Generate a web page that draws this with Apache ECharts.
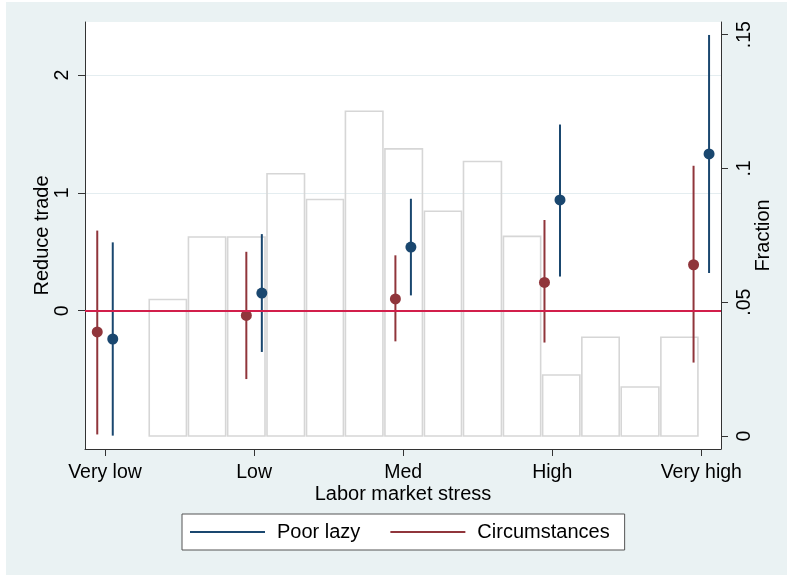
<!DOCTYPE html>
<html>
<head>
<meta charset="utf-8">
<script src="https://cdn.jsdelivr.net/npm/echarts@6/dist/echarts.min.js"></script>
<style>
html,body{margin:0;padding:0;background:#fff;}
#chart{width:787px;height:575px;}
</style>
</head>
<body>
<div id="chart"></div>
<script>
// ---- data ----
const categories = ['Very low', 'Low', 'Med', 'High', 'Very high'];
const categoryValues = [1, 2, 3, 4, 5];

const poorLazy   = [-0.24, 0.15, 0.54, 0.94, 1.33];
const poorLazyLo = [-1.06, -0.35, 0.13, 0.29, 0.32];
const poorLazyHi = [0.58, 0.65, 0.95, 1.58, 2.34];

const circumstances   = [-0.18, -0.04, 0.10, 0.24, 0.39];
const circumstancesLo = [-1.05, -0.58, -0.26, -0.27, -0.44];
const circumstancesHi = [0.68, 0.50, 0.47, 0.77, 1.23];

const histEdges = [1.290, 1.553, 1.816, 2.080, 2.345, 2.606, 2.871, 3.136, 3.398, 3.666, 3.929, 4.192, 4.456, 4.722, 4.984];
const histFraction = [0.051, 0.0744, 0.0744, 0.098, 0.0884, 0.1214, 0.1073, 0.084, 0.1026, 0.0746, 0.0228, 0.0369, 0.0183, 0.0369];

const tradeTicks = [0, 1, 2];
const tradeTickLabels = ['0', '1', '2'];
const fractionTicks = [0, 0.05, 0.1, 0.15];
const fractionTickLabels = ['0', '.05', '.1', '.15'];

// ---- styles ----
const FONT = '"Liberation Sans", Arial, sans-serif';
const NAVY = '#1a476f';
const MAROON = '#90353b';
const ZERO_RED = '#d21f4b';
const AXIS = '#333333';
const DODGE = 0.052;

function labelFor(list, labels) {
  return function (v) {
    for (let i = 0; i < list.length; i++) if (Math.abs(list[i] - v) < 1e-6) return labels[i];
    return '';
  };
}

function ciRender(color) {
  return function (params, api) {
    const a = api.coord([api.value(0), api.value(1)]);
    const b = api.coord([api.value(0), api.value(2)]);
    return { type: 'line', shape: { x1: a[0], y1: a[1], x2: b[0], y2: b[1] },
             style: { stroke: color, lineWidth: 2 } };
  };
}

const chart = echarts.init(document.getElementById('chart'), null, { renderer: 'canvas' });
const textBase = { fontFamily: FONT, fontSize: 20, color: '#000' };
const tickText = { fontFamily: FONT, fontSize: 19.5, color: '#000' };

const option = {
  animation: false,
  backgroundColor: '#eaf2f3',
  graphic: [
    { type: 'rect', silent: true, shape: { x: 0, y: 0, width: 6, height: 575 }, style: { fill: '#fff' } },
    { type: 'rect', silent: true, shape: { x: 0, y: 0, width: 787, height: 2 }, style: { fill: '#fff' } }
  ],
  grid: { left: 85, right: 66, top: 22, bottom: 126, show: true, backgroundColor: '#fff', borderWidth: 0,
          containLabel: false, outerBoundsMode: 'none' },
  legend: {
    left: 182, top: 514, orient: 'horizontal',
    itemWidth: 75, itemHeight: 2, itemGap: 30,
    padding: [8, 15, 8, 8],
    borderColor: '#555', borderWidth: 1, backgroundColor: '#fff',
    selectedMode: false,
    data: [{ name: 'Poor lazy', icon: 'rect' }, { name: 'Circumstances', icon: 'rect' }],
    textStyle: Object.assign({}, textBase, { padding: [0, 0, 0, 7] })
  },
  xAxis: {
    type: 'value', min: 0.8658, max: 5.1321,
    axisLine: { show: true, onZero: false, lineStyle: { color: AXIS, width: 1 } },
    axisTick: { show: true, customValues: categoryValues, length: 7, lineStyle: { color: AXIS } },
    axisLabel: Object.assign({ customValues: categoryValues, margin: 14,
      formatter: labelFor(categoryValues, categories) }, tickText),
    splitLine: { show: false },
    name: 'Labor market stress', nameLocation: 'middle', nameGap: 35, nameMoveOverlap: false,
    nameTextStyle: textBase
  },
  yAxis: [
    {
      type: 'value', position: 'left', min: -1.1735, max: 2.450,
      axisLine: { show: true, onZero: false, lineStyle: { color: AXIS, width: 1 } },
      axisTick: { show: true, customValues: tradeTicks, length: 7, lineStyle: { color: AXIS } },
      axisLabel: Object.assign({ customValues: tradeTicks, rotate: 90, margin: 12,
        formatter: labelFor(tradeTicks, tradeTickLabels) }, tickText),
      splitLine: { show: true, lineStyle: { color: '#e4edf0', width: 1 } },
      name: 'Reduce trade', nameLocation: 'middle', nameGap: 33, nameMoveOverlap: false,
      nameTextStyle: textBase
    },
    {
      type: 'value', position: 'right', min: -0.00486, max: 0.15474,
      axisLine: { show: true, onZero: false, lineStyle: { color: AXIS, width: 1 } },
      axisTick: { show: true, customValues: fractionTicks, length: 7, lineStyle: { color: AXIS } },
      axisLabel: Object.assign({ customValues: fractionTicks, rotate: 90, margin: 14,
        formatter: labelFor(fractionTicks, fractionTickLabels) }, tickText),
      splitLine: { show: false },
      name: 'Fraction', nameLocation: 'middle', nameGap: 32, nameMoveOverlap: false,
      nameTextStyle: textBase
    }
  ],
  series: [
    {
      type: 'custom', name: 'hist', xAxisIndex: 0, yAxisIndex: 1, z: 1, silent: true,
      encode: { x: [0, 1], y: 2 },
      data: histFraction.map((f, i) => [histEdges[i], histEdges[i + 1], f]),
      renderItem: function (params, api) {
        const p0 = api.coord([api.value(0), api.value(2)]);
        const p1 = api.coord([api.value(1), 0]);
        return { type: 'rect',
          shape: { x: p0[0] + 1, y: p0[1], width: p1[0] - p0[0] - 2, height: p1[1] - p0[1] },
          style: { fill: 'none', stroke: '#d6d6d6', lineWidth: 1.6 } };
      }
    },
    {
      type: 'scatter', name: 'zero', xAxisIndex: 0, yAxisIndex: 0, z: 2, data: [], silent: true,
      markLine: { silent: true, symbol: 'none', label: { show: false },
        lineStyle: { color: ZERO_RED, width: 2, type: 'solid' },
        data: [{ yAxis: 0 }] }
    },
    {
      type: 'custom', name: 'Poor lazy', xAxisIndex: 0, yAxisIndex: 0, z: 3,
      itemStyle: { color: NAVY }, encode: { x: 0, y: [1, 2] },
      data: categoryValues.map((c, i) => [c + DODGE, poorLazyLo[i], poorLazyHi[i]]),
      renderItem: ciRender(NAVY)
    },
    {
      type: 'custom', name: 'Circumstances', xAxisIndex: 0, yAxisIndex: 0, z: 3,
      itemStyle: { color: MAROON }, encode: { x: 0, y: [1, 2] },
      data: categoryValues.map((c, i) => [c - DODGE, circumstancesLo[i], circumstancesHi[i]]),
      renderItem: ciRender(MAROON)
    },
    {
      type: 'scatter', name: 'Poor lazy estimate', xAxisIndex: 0, yAxisIndex: 0, z: 4,
      symbol: 'circle', symbolSize: 11, itemStyle: { color: NAVY, opacity: 1 },
      data: categoryValues.map((c, i) => [c + DODGE, poorLazy[i]])
    },
    {
      type: 'scatter', name: 'Circumstances estimate', xAxisIndex: 0, yAxisIndex: 0, z: 4,
      symbol: 'circle', symbolSize: 11, itemStyle: { color: MAROON, opacity: 1 },
      data: categoryValues.map((c, i) => [c - DODGE, circumstances[i]])
    }
  ]
};
chart.setOption(option);
</script>
</body>
</html>
